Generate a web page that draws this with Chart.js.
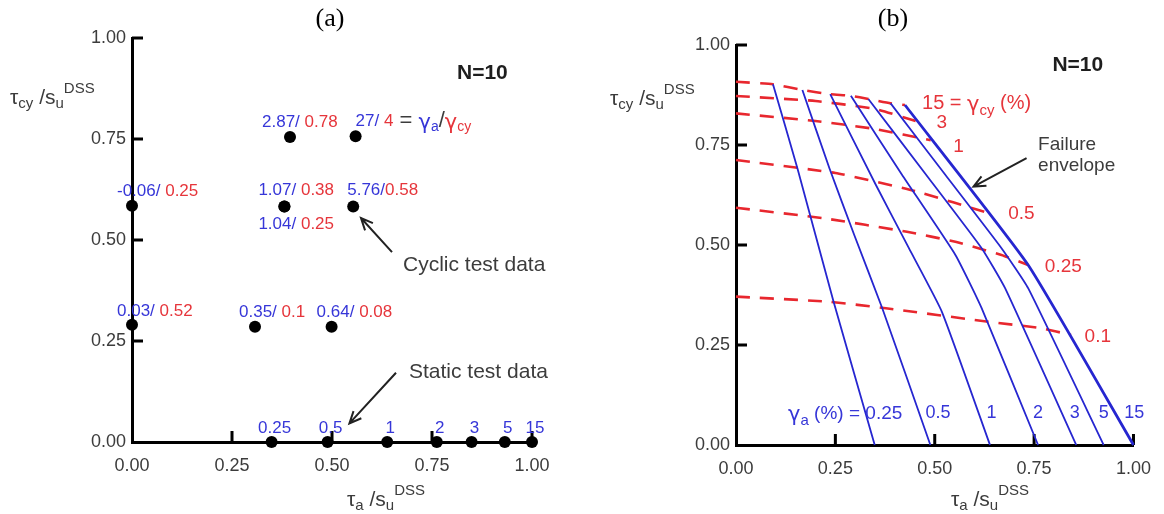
<!DOCTYPE html>
<html>
<head>
<meta charset="utf-8">
<script src="https://cdn.jsdelivr.net/npm/chart.js@4.4.1/dist/chart.umd.min.js"></script>
<style>
  html, body { margin: 0; padding: 0; background: #fff; }
  #wrap { position: relative; width: 1164px; height: 514px; overflow: hidden; }
  canvas { position: absolute; top: 0; }
  #chartA { left: 0; }
  #chartB { left: 582px; }
</style>
</head>
<body>
<div id="wrap">
  <canvas id="chartA" width="582" height="514"></canvas>
  <canvas id="chartB" width="582" height="514"></canvas>
</div>
<script>
// ---- data, panel (a) ----
const tickValues = [0, 0.25, 0.5, 0.75, 1];
const cyclicX = [0, 0, 0.395, 0.559, 0.381, 0.553, 0.381, 0.3075, 0.499];
const cyclicY = [0.585, 0.29, 0.755, 0.757, 0.583, 0.583, 0.583, 0.285, 0.285];
const cyclicGammaA = ["-0.06", "0.03", "2.87", "27", "1.07", "5.76", "1.04", "0.35", "0.64"];
const cyclicGammaCy = ["0.25", "0.52", "0.78", "4", "0.38", "0.58", "0.25", "0.1", "0.08"];
const staticX = [0.349, 0.489, 0.638, 0.762, 0.849, 0.932, 1.0];
const staticGammaA = ["0.25", "0.5", "1", "2", "3", "5", "15"];

// ---- data, panel (b) ----
const ampLevels = ["0.25", "0.5", "1", "2", "3", "5", "15"];
const ampContourX = [
  [0.093, 0.155, 0.245, 0.349],
  [0.167, 0.235, 0.2975, 0.368, 0.489],
  [0.237, 0.352, 0.435, 0.518, 0.639],
  [0.289, 0.418, 0.552, 0.618, 0.76],
  [0.333, 0.485, 0.618, 0.677, 0.856],
  [0.389, 0.527, 0.668, 0.735, 0.925],
  [0.425, 0.735, 1.0]
];
const ampContourY = [
  [0.902, 0.69, 0.36, 0],
  [0.8875, 0.692, 0.525, 0.342, 0],
  [0.877, 0.65, 0.492, 0.333, 0],
  [0.873, 0.675, 0.475, 0.342, 0],
  [0.865, 0.667, 0.492, 0.392, 0],
  [0.854, 0.675, 0.492, 0.392, 0],
  [0.85, 0.45, 0]
];
const cyLevels = ["15", "3", "1", "0.5", "0.25", "0.1"];
const cyContourX = [
  [0, 0.093, 0.167, 0.237, 0.289, 0.333, 0.389, 0.425],
  [0, 0.2, 0.35, 0.4525],
  [0, 0.2, 0.35, 0.49],
  [0, 0.25, 0.45, 0.6425],
  [0, 0.22, 0.43, 0.552, 0.668, 0.735],
  [0, 0.235, 0.377, 0.635, 0.768, 0.843]
];
const cyContourY = [
  [0.908, 0.902, 0.8875, 0.877, 0.873, 0.865, 0.854, 0.85],
  [0.8725, 0.86, 0.84, 0.81],
  [0.829, 0.81, 0.79, 0.762],
  [0.7125, 0.68, 0.635, 0.5775],
  [0.593, 0.567, 0.533, 0.508, 0.475, 0.45],
  [0.371, 0.358, 0.342, 0.308, 0.292, 0.275]
];

// ---- layout / styles ----
const FONT = "'Liberation Sans', Arial, sans-serif";
const SERIF = "'Liberation Serif', 'Times New Roman', serif";
const GREEK = "'DejaVu Sans', sans-serif";
const BLUE = "#3636d8";
const RED = "#e6353b";
const GREY = "#3c3c3c";
const LINE_BLUE = "#2626d0";
const DASH_RED = "#e8272e";
const Y_AXIS_W = 60;
const X_AXIS_H = 40;

// label offsets (px) from each cyclic dot, and separators
const cyclicLabelOffset = [[-15, -14], [-15, -14], [-28, -15], [0, -15], [-26, -16], [-6, -16], [-26, 18], [-16, -15], [-15, -15]];
const cyclicSep = ["/ ", "/ ", "/ ", "/ ", "/ ", "/", "/ ", "/ ", "/ "];

function seg(t, color, size, dy, weight) {
  return { t: t, color: color, size: size, dy: dy || 0, weight: weight || "normal", font: FONT };
}

// gamma glyph in a font with a clearer Greek form
function gam(color, size) {
  const s = seg("γ", color, size, 2);
  s.font = GREEK;
  return s;
}

function drawRich(ctx, x, y, parts, align) {
  ctx.textBaseline = "middle";
  ctx.textAlign = "left";
  let w = 0;
  parts.forEach((p) => {
    ctx.font = `${p.weight} ${p.size}px ${p.font}`;
    p.w = ctx.measureText(p.t).width;
    w += p.w;
  });
  let cx = align === "center" ? x - w / 2 : x;
  parts.forEach((p) => {
    ctx.font = `${p.weight} ${p.size}px ${p.font}`;
    ctx.fillStyle = p.color;
    ctx.fillText(p.t, cx, y + p.dy);
    cx += p.w;
  });
}

function arrow(ctx, x1, y1, x2, y2) {
  const a = Math.atan2(y2 - y1, x2 - x1);
  const L = 13, s = 0.42;
  ctx.save();
  ctx.strokeStyle = "#222";
  ctx.lineWidth = 2;
  ctx.beginPath();
  ctx.moveTo(x1, y1);
  ctx.lineTo(x2, y2);
  ctx.moveTo(x2 - L * Math.cos(a - s), y2 - L * Math.sin(a - s));
  ctx.lineTo(x2, y2);
  ctx.lineTo(x2 - L * Math.cos(a + s), y2 - L * Math.sin(a + s));
  ctx.stroke();
  ctx.restore();
}

function axisTitle(prefix) {
  return [seg("τ", GREY, 21), seg(prefix, GREY, 15, 6), seg(" /s", GREY, 21), seg("u", GREY, 15, 6), seg("DSS", GREY, 15, -9)];
}

// inward tick marks, axis titles, panel letter
const frame = {
  id: "frame",
  beforeDatasetsDraw(chart) {
    const { ctx, chartArea, scales } = chart;
    ctx.save();
    ctx.strokeStyle = "#000";
    ctx.lineWidth = 3;
    tickValues.forEach((v) => {
      if (v === 0) return;
      const py = scales.y.getPixelForValue(v);
      const px = scales.x.getPixelForValue(v);
      ctx.beginPath();
      ctx.moveTo(chartArea.left, py);
      ctx.lineTo(chartArea.left + 11, py);
      ctx.moveTo(px, chartArea.bottom);
      ctx.lineTo(px, chartArea.bottom - 11);
      ctx.stroke();
    });
    ctx.restore();
  },
  afterDraw(chart, args, opts) {
    const { ctx, chartArea } = chart;
    ctx.save();
    drawRich(ctx, chartArea.left - opts.yTitleDx, chartArea.top + opts.yTitleDy, axisTitle("cy"), "left");
    drawRich(ctx, chartArea.left + 215, 500, axisTitle("a"), "left");
    const letter = seg(opts.letter, "#000", 26);
    letter.font = SERIF;
    drawRich(ctx, opts.letterX, 19, [letter], "center");
    ctx.restore();
  }
};

function scaleOpts() {
  const common = {
    type: "linear",
    min: 0,
    max: 1,
    grid: { display: false, drawTicks: false },
    border: { display: true, color: "#000", width: 3 },
  };
  return {
    x: Object.assign({}, common, {
      ticks: { stepSize: 0.25, autoSkip: false, maxRotation: 0, padding: 13, color: GREY, font: { family: FONT, size: 18 }, callback: (v) => v.toFixed(2) },
      afterFit: (s) => { s.height = X_AXIS_H; },
    }),
    y: Object.assign({}, common, {
      ticks: { stepSize: 0.25, padding: 6, color: GREY, font: { family: FONT, size: 18 }, callback: (v) => v.toFixed(2) },
      afterFit: (s) => { s.width = Y_AXIS_W; },
    }),
  };
}

// ---- panel (a) annotations ----
const panelA = {
  id: "panelA",
  afterDatasetsDraw(chart) {
    const { ctx, scales: { x, y } } = chart;
    ctx.save();
    cyclicX.forEach((v, i) => {
      const px = x.getPixelForValue(v) + cyclicLabelOffset[i][0];
      const py = y.getPixelForValue(cyclicY[i]) + cyclicLabelOffset[i][1];
      const parts = [seg(cyclicGammaA[i] + cyclicSep[i], BLUE, 17), seg(cyclicGammaCy[i], RED, 17)];
      if (i === 3) {
        parts.push(seg(" = ", GREY, 22), gam(BLUE, 21), seg("a", BLUE, 14, 6), seg("/", GREY, 22), gam(RED, 21), seg("cy", RED, 14, 6));
      }
      drawRich(ctx, px, py, parts, "left");
    });
    staticX.forEach((v, i) => {
      drawRich(ctx, x.getPixelForValue(v) + 3, y.getPixelForValue(0.035), [seg(staticGammaA[i], BLUE, 17)], "center");
    });
    drawRich(ctx, x.getPixelForValue(0.876), y.getPixelForValue(0.913), [seg("N=10", "#1e1e1e", 21, 0, "bold")], "center");
    drawRich(ctx, x.getPixelForValue(0.6775), y.getPixelForValue(0.438), [seg("Cyclic test data", GREY, 21)], "left");
    drawRich(ctx, x.getPixelForValue(0.6925), y.getPixelForValue(0.173), [seg("Static test data", GREY, 21)], "left");
    arrow(ctx, x.getPixelForValue(0.65), y.getPixelForValue(0.47), x.getPixelForValue(0.5725), y.getPixelForValue(0.5545));
    arrow(ctx, x.getPixelForValue(0.66), y.getPixelForValue(0.1715), x.getPixelForValue(0.5435), y.getPixelForValue(0.046));
    ctx.restore();
  }
};

// ---- panel (b) annotations ----
const cyLabelPos = [[0.468, 0.854, "left"], [0.5175, 0.805, "center"], [0.56, 0.746, "center"], [0.685, 0.579, "left"], [0.777, 0.446, "left"], [0.877, 0.271, "left"]];
const ampLabelPos = [[0.131, "left"], [0.477, "left"], [0.643, "center"], [0.76, "center"], [0.852, "center"], [0.925, "center"], [1.002, "center"]];

const panelB = {
  id: "panelB",
  afterDatasetsDraw(chart) {
    const { ctx, scales: { x, y } } = chart;
    ctx.save();
    cyLevels.forEach((lvl, i) => {
      const p = cyLabelPos[i];
      const parts = i === 0
        ? [seg(lvl + " = ", RED, 20), gam(RED, 21), seg("cy", RED, 15, 7), seg(" (%)", RED, 20)]
        : [seg(lvl, RED, 19)];
      drawRich(ctx, x.getPixelForValue(p[0]), y.getPixelForValue(p[1]), parts, p[2]);
    });
    ampLevels.forEach((lvl, i) => {
      const p = ampLabelPos[i];
      const parts = i === 0
        ? [gam(BLUE, 21), seg("a", BLUE, 15, 7), seg(" (%) = " + lvl, BLUE, 19)]
        : [seg(lvl, BLUE, 18)];
      drawRich(ctx, x.getPixelForValue(p[0]), y.getPixelForValue(0.079), parts, p[1]);
    });
    drawRich(ctx, x.getPixelForValue(0.86), y.getPixelForValue(0.95), [seg("N=10", "#1e1e1e", 21, 0, "bold")], "center");
    drawRich(ctx, x.getPixelForValue(0.76), y.getPixelForValue(0.75), [seg("Failure", GREY, 19)], "left");
    drawRich(ctx, x.getPixelForValue(0.76), y.getPixelForValue(0.698), [seg("envelope", GREY, 19)], "left");
    arrow(ctx, x.getPixelForValue(0.731), y.getPixelForValue(0.717), x.getPixelForValue(0.5975), y.getPixelForValue(0.646));
    ctx.restore();
  }
};

Chart.defaults.font.family = FONT;

new Chart(document.getElementById("chartA"), {
  type: "scatter",
  data: {
    datasets: [
      {
        label: "Cyclic",
        data: cyclicX.map((v, i) => ({ x: v, y: cyclicY[i] })),
        pointRadius: 6,
        pointBackgroundColor: "#000",
        pointBorderWidth: 0,
        clip: false,
      },
      {
        label: "Static",
        data: staticX.map((v) => ({ x: v, y: 0 })),
        pointRadius: 6,
        pointBackgroundColor: "#000",
        pointBorderWidth: 0,
        clip: false,
      },
    ],
  },
  options: {
    responsive: false,
    animation: false,
    devicePixelRatio: 1,
    layout: { padding: { left: 132 - Y_AXIS_W, right: 50, top: 38, bottom: 514 - 442 - X_AXIS_H } },
    scales: scaleOpts(),
    plugins: {
      legend: { display: false },
      tooltip: { enabled: false },
      frame: { letter: "(a)", letterX: 330, yTitleDx: 122, yTitleDy: 60 },
    },
  },
  plugins: [frame, panelA],
});

const datasetsB = [];
ampContourX.forEach((xs, i) => {
  datasetsB.push({
    label: "γa " + ampLevels[i],
    data: xs.map((v, j) => ({ x: v, y: ampContourY[i][j] })),
    showLine: true,
    pointRadius: 0,
    borderColor: LINE_BLUE,
    borderWidth: i === ampContourX.length - 1 ? 2.8 : 1.8,
    tension: 0.15,
    clip: false,
  });
});
cyContourX.forEach((xs, i) => {
  datasetsB.push({
    label: "γcy " + cyLevels[i],
    data: xs.map((v, j) => ({ x: v, y: cyContourY[i][j] })),
    showLine: true,
    pointRadius: 0,
    borderColor: DASH_RED,
    borderWidth: 2.6,
    borderDash: [14, 10],
    tension: 0.15,
    clip: false,
  });
});

new Chart(document.getElementById("chartB"), {
  type: "scatter",
  data: { datasets: datasetsB },
  options: {
    responsive: false,
    animation: false,
    devicePixelRatio: 1,
    layout: { padding: { left: 154 - Y_AXIS_W, right: 28, top: 45, bottom: 514 - 445 - X_AXIS_H } },
    scales: scaleOpts(),
    plugins: {
      legend: { display: false },
      tooltip: { enabled: false },
      frame: { letter: "(b)", letterX: 311, yTitleDx: 126, yTitleDy: 54 },
    },
  },
  plugins: [frame, panelB],
});
</script>
</body>
</html>
